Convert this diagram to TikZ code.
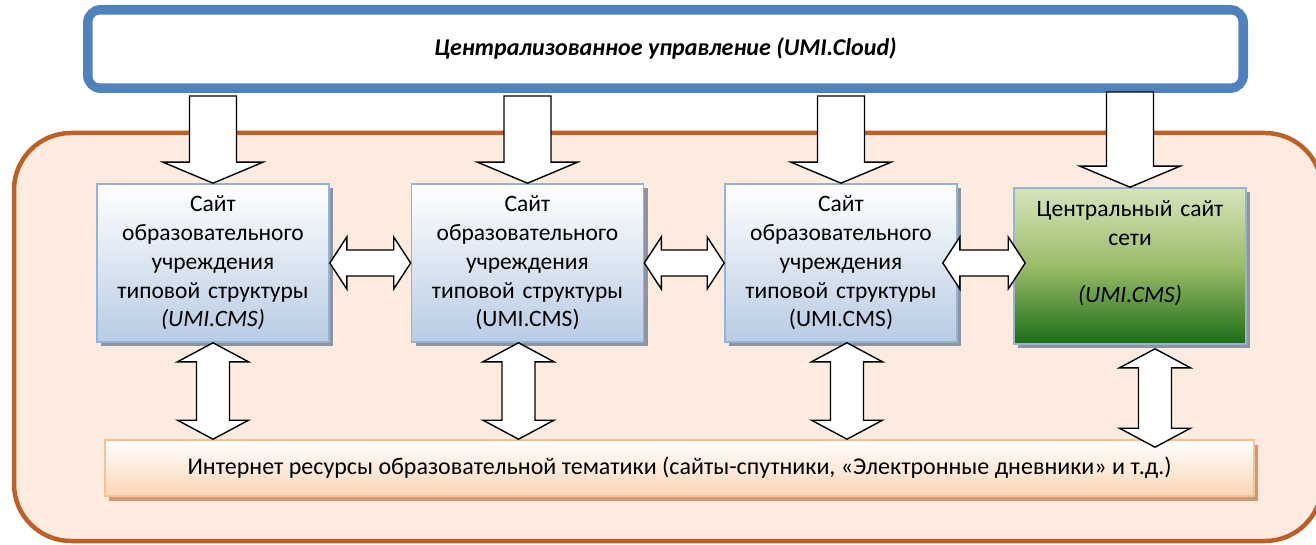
\documentclass[tikz,border=0pt]{standalone}
\usepackage{fontspec}
\setmainfont{Carlito}
\usetikzlibrary{calc,shadows}
\definecolor{cloudblue}{RGB}{79,129,189}
\definecolor{frame}{RGB}{189,96,40}
\definecolor{framefill}{RGB}{253,235,224}
\definecolor{boxedge}{RGB}{149,179,215}
\definecolor{boxblue}{RGB}{184,204,228}
\definecolor{boxshadow}{RGB}{140,148,162}
\definecolor{greentop}{RGB}{216,228,189}
\definecolor{greenmid}{RGB}{155,188,105}
\definecolor{greenbot}{RGB}{28,108,22}
\definecolor{netedge}{RGB}{250,192,144}
\definecolor{netfill}{RGB}{251,213,181}
\definecolor{netshadow}{RGB}{205,152,118}
\tikzset{
    container/.style ={
        draw=frame,
        line width=4.5pt,
        fill=framefill,
        rounded corners=57pt
    },
    cloudbox/.style ={
        draw=cloudblue,
        line width=8pt,
        fill=white,
        rounded corners=14pt,
        minimum width=1157pt,
        minimum height=80pt,
        font=\bfseries\itshape\fontsize{24}{29}\selectfont
    },
    sitebox/.style ={
        draw=boxedge,
        line width=1.6pt,
        top color=white,
        bottom color=boxblue,
        minimum width=232pt,
        minimum height=158pt,
        text width=228pt,
        align=center,
        inner sep=0pt,
        font=\fontsize{23.5}{28.7}\selectfont,
        drop shadow={shadow xshift=4pt, shadow yshift=-4pt, fill=boxshadow, opacity=1}
    },
    mainsite/.style ={
        sitebox,
        top color=greentop,
        bottom color=greenbot,
        middle color=greenmid,
        minimum height=156pt
    },
    netbox/.style ={
        draw=netedge,
        line width=1.6pt,
        top color=white,
        bottom color=netfill,
        minimum width=1149pt,
        minimum height=56pt,
        font=\fontsize{24}{29}\selectfont,
        drop shadow={shadow xshift=4pt, shadow yshift=-5pt, fill=netshadow, opacity=1}
    },
    blockarrow/.style ={
        draw=black,
        fill=white,
        line width=1.4pt,
        line join=miter
    }
}
% fat arrow pointing down from #1 to #2
\newcommand{\downblock}[2]{%
    \filldraw[blockarrow] let \p1=(#1), \p2=(#2) in
        (\x2-23.5pt,\y1) -- (\x2-23.5pt,\y2+21pt) -- (\x2-50pt,\y2+21pt) -- (\x2,\y2)
        -- (\x2+50pt,\y2+21pt) -- (\x2+23.5pt,\y2+21pt) -- (\x2+23.5pt,\y1) -- cycle;}
% fat double arrow, left-right
\newcommand{\hdouble}[2]{%
    \filldraw[blockarrow] let \p1=(#1), \p2=(#2) in
        (\x1,\y1) -- (\x1+17pt,\y1+26pt) -- (\x1+17pt,\y1+13pt) -- (\x2-17pt,\y1+13pt)
        -- (\x2-17pt,\y1+26pt) -- (\x2,\y1) -- (\x2-17pt,\y1-26pt) -- (\x2-17pt,\y1-13pt)
        -- (\x1+17pt,\y1-13pt) -- (\x1+17pt,\y1-26pt) -- cycle;}
% fat double arrow, up-down
\newcommand{\vdouble}[2]{%
    \filldraw[blockarrow] let \p1=(#1), \p2=(#2) in
        (\x1,\y1) -- (\x1+35.5pt,\y1-19pt) -- (\x1+16.5pt,\y1-19pt) -- (\x1+16.5pt,\y2+19pt)
        -- (\x1+35.5pt,\y2+19pt) -- (\x1,\y2) -- (\x1-35.5pt,\y2+19pt) -- (\x1-16.5pt,\y2+19pt)
        -- (\x1-16.5pt,\y1-19pt) -- (\x1-35.5pt,\y1-19pt) -- cycle;}

\begin{document}
\begin{tikzpicture}[x=1pt,y=1pt]
    \useasboundingbox (0,0) rectangle (1316,544);
    \draw[container] (14,3) rectangle (1322,411);

    \node[cloudbox] (cloud) at (665.5,495) {Централизованное управление (UMI.Cloud)};
    \draw[cloudblue, line width=2.2pt, rounded corners=8pt]
        ([shift={(8.5pt,-8.5pt)}]cloud.north west) rectangle ([shift={(-8.5pt,8.5pt)}]cloud.south east);

    \node[sitebox] (site1) at (213,281) {Сайт\\образовательного\\учреждения\\типовой структуры\\\textit{(UMI.CMS)}};
    \node[sitebox] (site2) at (527.5,281) {Сайт\\образовательного\\учреждения\\типовой структуры\\(UMI.CMS)};
    \node[sitebox] (site3) at (841,281) {Сайт\\образовательного\\учреждения\\типовой структуры\\(UMI.CMS)};
    \node[mainsite] (central) at (1130,278) {Центральный сайт\\сети\\~\\\textit{(UMI.CMS)}\\~};

    \node[netbox] (net) at (679.5,76) {Интернет ресурсы образовательной тематики (сайты-спутники, «Электронные дневники» и т.д.)};

    % arrows from the cloud
    \downblock{$(cloud.south)+(0,-3)$}{site1.north}
    \downblock{$(cloud.south)+(0,-3)$}{site2.north}
    \downblock{$(cloud.south)+(0,-3)$}{site3.north}
    \downblock{$(cloud.south)+(0,1)$}{central.north}

    % between the sites
    \hdouble{site1.east}{site2.west}
    \hdouble{site2.east}{site3.west}
    \hdouble{$(site3.east)+(-15,0)$}{$(central.west)+(12,0)$}

    % down to the internet resources
    \vdouble{site1.south}{net.north}
    \vdouble{$(site2.south)+(-9,0)$}{net.north}
    \vdouble{$(site3.south)+(6,0)$}{net.north}
    \vdouble{$(central.south)+(25,-4)$}{$(net.north)+(0,-8)$}
\end{tikzpicture}
\end{document}
